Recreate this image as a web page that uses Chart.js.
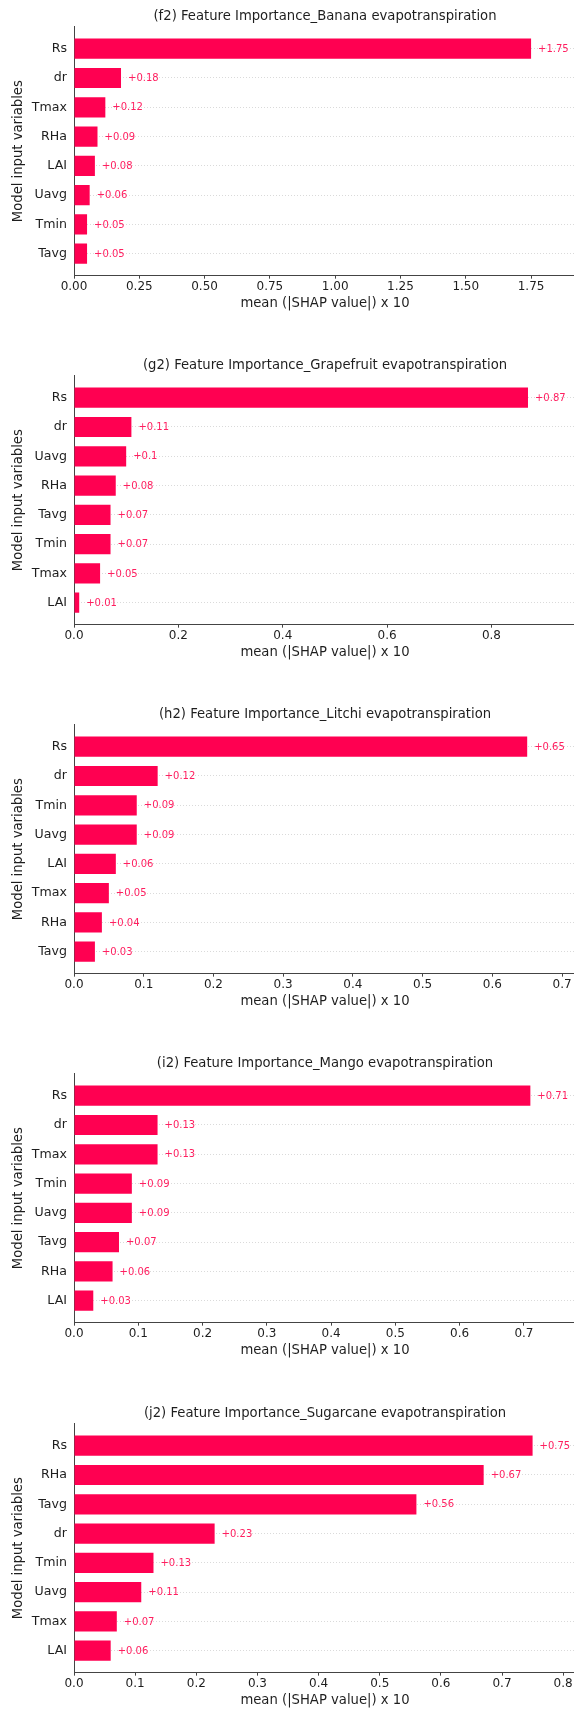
<!DOCTYPE html>
<html>
<head>
<meta charset="utf-8">
<script src="https://cdn.jsdelivr.net/npm/chart.js@4.4.1/dist/chart.umd.min.js"></script>
<style>
  html, body { margin: 0; padding: 0; background: #fff; overflow: hidden; width: 574px; height: 1709px; }
  .panel { position: absolute; left: 0; width: 600px; height: 313px; }
  canvas { display: block; }
</style>
</head>
<body>
<div class="panel" style="top:0px"><canvas id="c0" width="600" height="313"></canvas></div>
<div class="panel" style="top:349px"><canvas id="c1" width="600" height="313"></canvas></div>
<div class="panel" style="top:698px"><canvas id="c2" width="600" height="313"></canvas></div>
<div class="panel" style="top:1047px"><canvas id="c3" width="600" height="313"></canvas></div>
<div class="panel" style="top:1397px"><canvas id="c4" width="600" height="313"></canvas></div>
<script>
// Mean |SHAP| feature importance (x 10) per crop, features ordered by importance
const panelTitles = [
  '(f2) Feature Importance_Banana evapotranspiration',
  '(g2) Feature Importance_Grapefruit evapotranspiration',
  '(h2) Feature Importance_Litchi evapotranspiration',
  '(i2) Feature Importance_Mango evapotranspiration',
  '(j2) Feature Importance_Sugarcane evapotranspiration'
];

const bananaVars      = ['Rs', 'dr', 'Tmax', 'RHa', 'LAI', 'Uavg', 'Tmin', 'Tavg'];
const bananaValues    = [1.75, 0.18, 0.12, 0.09, 0.08, 0.06, 0.05, 0.05];

const grapefruitVars   = ['Rs', 'dr', 'Uavg', 'RHa', 'Tavg', 'Tmin', 'Tmax', 'LAI'];
const grapefruitValues = [0.87, 0.11, 0.1, 0.08, 0.07, 0.07, 0.05, 0.01];

const litchiVars      = ['Rs', 'dr', 'Tmin', 'Uavg', 'LAI', 'Tmax', 'RHa', 'Tavg'];
const litchiValues    = [0.65, 0.12, 0.09, 0.09, 0.06, 0.05, 0.04, 0.03];

const mangoVars       = ['Rs', 'dr', 'Tmax', 'Tmin', 'Uavg', 'Tavg', 'RHa', 'LAI'];
const mangoValues     = [0.71, 0.13, 0.13, 0.09, 0.09, 0.07, 0.06, 0.03];

const sugarcaneVars   = ['Rs', 'RHa', 'Tavg', 'dr', 'Tmin', 'Uavg', 'Tmax', 'LAI'];
const sugarcaneValues = [0.75, 0.67, 0.56, 0.23, 0.13, 0.11, 0.07, 0.06];

// x-axis tick settings per panel
const xTickStep     = [0.25, 0.2, 0.1, 0.1, 0.1];
const xTickDecimals = [2, 1, 1, 1, 1];
const xAxisMax      = [1.922, 0.962, 0.720, 0.781, 0.821];

const xAxisTitle = 'mean (|SHAP value|) x 10';
const yAxisTitle = 'Model input variables';

const panelVars   = [bananaVars, grapefruitVars, litchiVars, mangoVars, sugarcaneVars];
const panelValues = [bananaValues, grapefruitValues, litchiValues, mangoValues, sugarcaneValues];

const FONT = '"DejaVu Sans", "Liberation Sans", sans-serif';
const BAR_RED = '#ff0051';
const LABEL_RED = '#ff1f60';
const AXIS_GREY = '#444444';
const TEXT_DARK = '#1e1e1e';

// writes "+value" just past the end of each bar
const valueLabels = {
  id: 'valueLabels',
  afterDatasetsDraw(chart) {
    const ctx = chart.ctx;
    const meta = chart.getDatasetMeta(0);
    const pts = chart.data.datasets[0].data;
    ctx.save();
    ctx.font = '10px ' + FONT;
    ctx.fillStyle = LABEL_RED;
    ctx.textAlign = 'left';
    ctx.textBaseline = 'middle';
    meta.data.forEach((bar, i) => {
      ctx.fillText('+' + pts[i].x, bar.x + 7, bar.y + 0.5);
    });
    ctx.restore();
  }
};

function buildPanel(k) {
  const names = panelVars[k];
  const vals = panelValues[k];
  const points = vals.map((v, i) => ({ x: v, y: i }));
  const last = names.length - 1;

  new Chart(document.getElementById('c' + k), {
    type: 'bar',
    data: {
      datasets: [{
        data: points,
        backgroundColor: BAR_RED,
        borderWidth: 0,
        categoryPercentage: 1,
        barPercentage: 0.69
      }]
    },
    options: {
      indexAxis: 'y',
      responsive: false,
      animation: false,
      events: [],
      layout: { padding: { left: 0, right: 24, top: 0, bottom: 0 } },
      plugins: {
        legend: { display: false },
        tooltip: { enabled: false },
        title: {
          display: true,
          text: panelTitles[k],
          fullSize: false,
          color: TEXT_DARK,
          font: { family: FONT, size: 13.2, weight: 'normal' },
          padding: { top: 8.8, bottom: 2.1 }
        }
      },
      scales: {
        x: {
          type: 'linear',
          position: 'bottom',
          min: 0,
          max: xAxisMax[k],
          offset: false,
          border: { display: true, color: AXIS_GREY, width: 1 },
          grid: { display: true, offset: false, drawOnChartArea: false, drawTicks: true, tickLength: 3, color: AXIS_GREY },
          ticks: {
            stepSize: xTickStep[k],
            includeBounds: false,
            autoSkip: false,
            maxRotation: 0,
            padding: 1,
            color: TEXT_DARK,
            font: { family: FONT, size: 12 },
            callback: v => v.toFixed(xTickDecimals[k])
          },
          title: {
            display: true,
            text: xAxisTitle,
            color: TEXT_DARK,
            font: { family: FONT, size: 13.2 },
            padding: { top: 0.3, bottom: 1.8 }
          }
        },
        y: {
          type: 'linear',
          position: 'left',
          reverse: true,
          offset: false,
          min: -0.75,
          max: last + 0.75,
          afterFit: s => { s.width = 74; },
          border: { display: true, color: AXIS_GREY, width: 1, dash: [1, 2] },
          grid: {
            display: true,
            offset: false,
            drawTicks: false,
            color: '#dadada',
            lineWidth: 1
          },
          ticks: {
            stepSize: 1,
            includeBounds: false,
            autoSkip: false,
            padding: 7,
            color: TEXT_DARK,
            font: { family: FONT, size: 12.6 },
            callback: v => (Number.isInteger(v) && v >= 0 && v <= last) ? names[v] : ''
          },
          title: {
            display: true,
            text: yAxisTitle,
            color: TEXT_DARK,
            font: { family: FONT, size: 13.2 },
            padding: { top: 10.4, bottom: 0 }
          }
        }
      }
    },
    plugins: [valueLabels]
  });
}

for (let k = 0; k < panelTitles.length; k++) buildPanel(k);
</script>
</body>
</html>
